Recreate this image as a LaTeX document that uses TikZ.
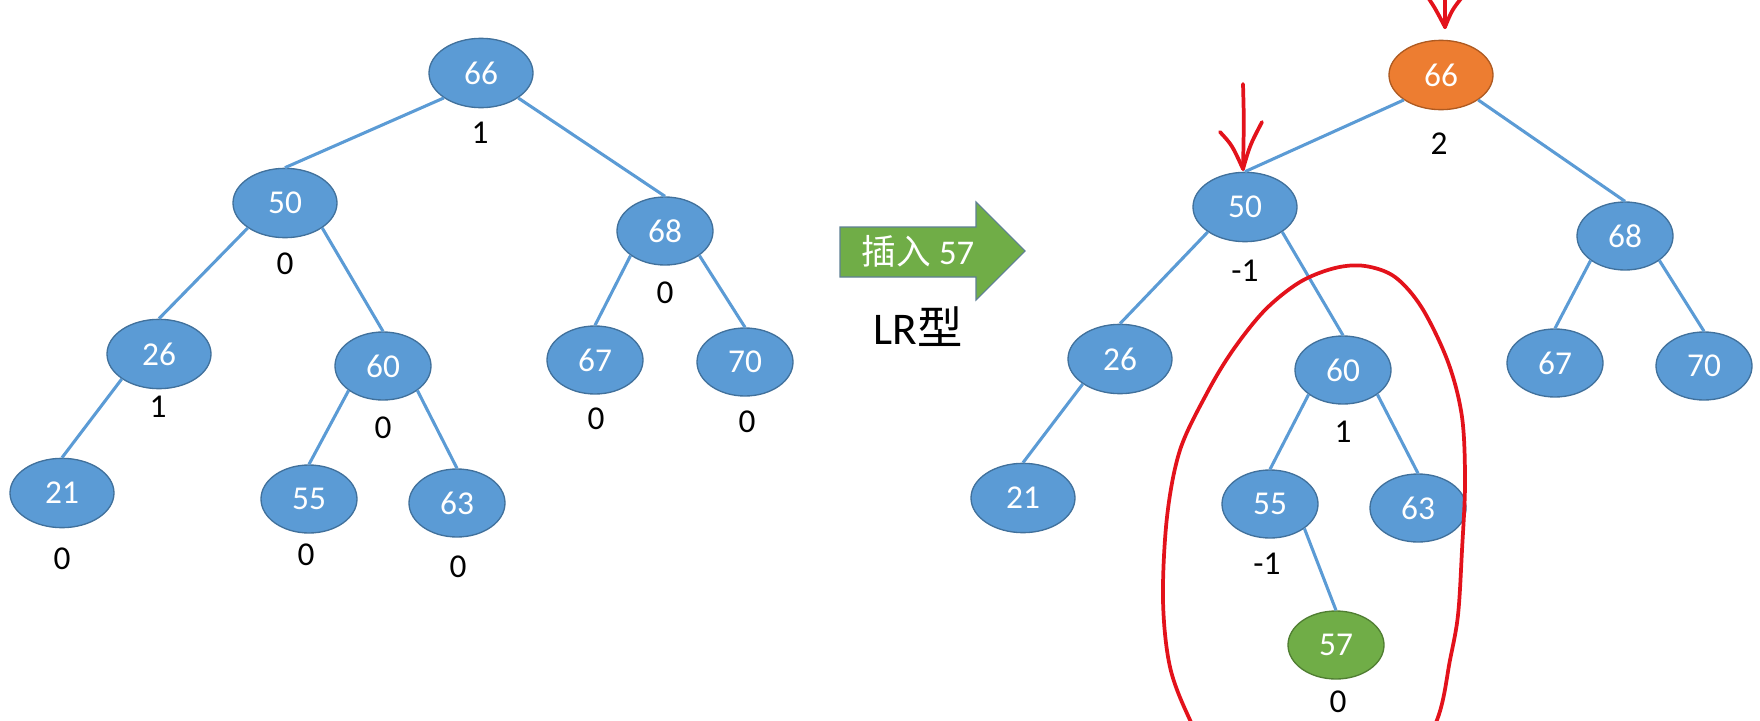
\documentclass[tikz,border=0pt]{standalone}
\usepackage{fontspec}
\usetikzlibrary{shapes.geometric}
\setmainfont{Carlito}
\newfontfamily\cjk{Noto Sans CJK SC}
\definecolor{nodeblue}{HTML}{5B9BD5}
\definecolor{nodeline}{HTML}{41719C}
\definecolor{orangefill}{HTML}{ED7D31}
\definecolor{orangeline}{HTML}{AE5A21}
\definecolor{greenfill}{HTML}{70AD47}
\definecolor{greenline}{HTML}{507E32}
\definecolor{inkred}{HTML}{E3121B}
\definecolor{arrowline}{HTML}{5E7F94}
\begin{document}
\begin{tikzpicture}[x=0.75pt,y=-0.75pt,
  bst/.style={ellipse, draw=nodeline, line width=1pt, fill=nodeblue, text=white,
    minimum width=72pt, minimum height=51pt, inner sep=0pt,
    font=\fontsize{25}{29}\selectfont},
  wide/.style={minimum width=78pt, minimum height=52pt},
  hot/.style={fill=orangefill, draw=orangeline},
  new/.style={fill=greenfill, draw=greenline},
  bal/.style={font=\fontsize{25}{29}\selectfont, text=black, inner sep=0pt},
  link/.style={draw=nodeblue, line width=2.3pt},
  ink/.style={draw=inkred, line width=2.8pt, line cap=round, line join=round}]
\useasboundingbox (0,0) rectangle (1760,721);
\clip (0,0) rectangle (1760,721);

% ---------- left tree ----------
\node[bst,wide] (L66) at (481,73) {66};
\node[bst,wide] (L50) at (285,203) {50};
\node[bst] (L68) at (665,231) {68};
\node[bst,wide] (L26) at (159,354) {26};
\node[bst] (L60) at (383,366) {60};
\node[bst] (L67) at (595,360) {67};
\node[bst] (L70) at (745,362) {70};
\node[bst,wide] (L21) at (62,493) {21};
\node[bst] (L55) at (309,499) {55};
\node[bst] (L63) at (457,503) {63};

\draw[link] (L66.south west) -- (L50.north);
\draw[link] (L66.south east) -- (L68.north);
\draw[link] (L50.south west) -- (L26.north);
\draw[link] (L50.south east) -- (L60.north);
\draw[link] (L26.south west) -- (L21.north);
\draw[link] (L60.south west) -- (L55.north);
\draw[link] (L60.south east) -- (L63.north);
\draw[link] (L68.south west) -- (L67.north);
\draw[link] (L68.south east) -- (L70.north);

\node[bal] (bL66) at (480,133) {1};
\node[bal] (bL50) at (285,264) {0};
\node[bal] (bL68) at (665,293) {0};
\node[bal] (bL26) at (158,407) {1};
\node[bal] (bL60) at (383,428) {0};
\node[bal] (bL67) at (596,419) {0};
\node[bal] (bL70) at (747,422) {0};
\node[bal] (bL21) at (62,559) {0};
\node[bal] (bL55) at (306,555) {0};
\node[bal] (bL63) at (458,567) {0};

% ---------- middle arrow ----------
\draw[fill=greenfill, draw=arrowline, line width=0.8pt]
  (840,227) -- (976,227) -- (976,202) -- (1025,251) -- (976,300) -- (976,277) -- (840,277) -- cycle;
\node[text=white, inner sep=0pt, font=\fontsize{26}{30}\selectfont] (ins) at (918,251) {{\cjk 插入} 57};
\node[text=black, inner sep=0pt, font=\fontsize{34}{40}\selectfont] (lr) at (918,327) {LR{\cjk 型}};

% ---------- right tree ----------
\node[bst,wide,hot] (R66) at (1441,75) {66};
\node[bst,wide] (R50) at (1245,207) {50};
\node[bst] (R68) at (1625,236) {68};
\node[bst,wide] (R26) at (1120,359) {26};
\node[bst] (R60) at (1343,370) {60};
\node[bst] (R67) at (1555,363) {67};
\node[bst] (R70) at (1704,366) {70};
\node[bst,wide] (R21) at (1023,498) {21};
\node[bst] (R55) at (1270,504) {55};
\node[bst] (R63) at (1418,508) {63};
\node[bst,new] (R57) at (1336,645) {57};

\draw[link] (R66.south west) -- (R50.north);
\draw[link] (R66.south east) -- (R68.north);
\draw[link] (R50.south west) -- (R26.north);
\draw[link] (R50.south east) -- (R60.north);
\draw[link] (R26.south west) -- (R21.north);
\draw[link] (R60.south west) -- (R55.north);
\draw[link] (R60.south east) -- (R63.north);
\draw[link] (R55.south east) -- (R57.north);
\draw[link] (R68.south west) -- (R67.north);
\draw[link] (R68.south east) -- (R70.north);

\node[bal] (bR66) at (1439,144) {2};
\node[bal] (bR50) at (1245,271) {-1};
\node[bal] (bR60) at (1343,432) {1};
\node[bal] (bR55) at (1267,564) {-1};
\node[bal] (bR57) at (1338,702) {0};

% ---------- red ink ----------
\coordinate (a1top) at (1445,-6);
\coordinate (a1tip) at (1445,27);
\draw[ink] (a1top) -- (a1tip);
\draw[ink] (1427,-4) .. controls (1435,8) .. (a1tip) .. controls (1452,10) .. (1463,-4);

\coordinate (a2top) at (1243,84);
\coordinate (a2tip) at (1243,169);
\draw[ink] (a2top) .. controls (1244,120) .. (a2tip);
\draw[ink] (1220,132) .. controls (1232,145) .. (a2tip) .. controls (1250,145) .. (1262,122);

\draw[ink] plot[smooth cycle, tension=0.55] coordinates {
  (1335,268) (1365,266) (1395,277) (1422,308) (1448,362) (1462,417)
  (1465,483) (1462,550) (1458,615) (1450,660) (1437,720) (1400,790)
  (1310,812) (1220,775) (1190,720) (1170,667) (1163,600) (1167,517)
  (1180,450) (1207,393) (1233,350) (1265,310) (1300,282)};
\end{tikzpicture}
\end{document}
